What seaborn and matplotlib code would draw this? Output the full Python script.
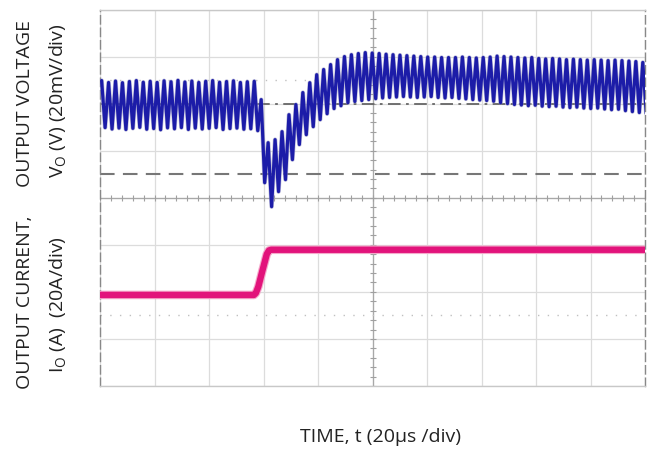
import numpy as np
import pandas as pd
import matplotlib
matplotlib.use("Agg")
import matplotlib.pyplot as plt
import seaborn as sns

# ---------------- data ----------------
# time axis: 20 us/div, screen centre = 0 us; vertical: 20 mV/div and 20 A/div (screen centre = 0)
RIPPLE_FIRST_PEAK_US = -99.4     # time of the first ripple crest
RIPPLE_PERIOD_US = 2.546         # ripple period

# output voltage ripple crests (mV, relative to screen centre), one per ripple cycle
v_peaks = [49.8, 49.0, 49.6, 48.9, 49.4, 49.8, 49.1, 49.5, 49.0, 49.7, 49.3, 49.9,
           49.2, 49.6, 49.0, 49.5, 49.8, 49.1, 49.4, 49.7, 49.0, 49.3, 49.5,
           41.7, 23.4, 24.7, 28.1, 35.3, 39.6, 44.7, 48.9, 52.3, 54.5, 56.6, 58.7,
           60.0, 60.8, 61.3, 61.7,
           61.5, 61.3, 61.0, 60.8, 60.6, 60.4, 60.2, 60.0, 59.8, 59.8, 59.6, 59.6,
           59.6, 59.8, 59.6, 59.4, 59.6, 59.8,
           60.2, 60.0, 59.8, 59.6, 59.4, 59.6, 59.2, 59.0, 59.2, 59.0, 58.7, 58.9,
           58.7, 58.5, 58.7, 58.5, 58.3, 58.5, 58.3, 58.1, 57.9, 57.5]
# output voltage ripple troughs (mV), one per ripple cycle
v_troughs = [29.8, 29.2, 29.6, 29.0, 29.5, 29.9, 29.1, 29.4, 28.9, 29.7, 29.3, 29.8,
             29.0, 29.6, 29.2, 29.5, 29.8, 29.0, 29.4, 29.6, 29.1, 29.3, 28.5,
             6.4, -3.8, 2.6, 7.7, 16.2, 22.6, 26.8, 30.2, 33.2, 35.7, 37.9, 39.1,
             40.4, 40.9, 41.3, 41.7,
             42.1, 42.4, 42.6, 42.8, 43.0, 42.8, 42.6, 42.8, 43.0, 42.6, 42.4, 42.6,
             42.2, 42.0, 41.7, 41.5, 41.3, 41.0,
             40.4, 40.0, 39.6, 39.4, 39.1, 39.3, 38.9, 38.7, 38.9, 38.5, 38.3, 38.5,
             38.1, 37.9, 38.1, 37.7, 37.4, 37.6, 37.0, 36.6, 36.2, 35.8]

# output current step (A, relative to screen centre)
i_time = [-100.0, -43.5, -42.8, -41.9, -40.4, -38.8, -38.0, -37.2, 100.0]
i_value = [-41.3, -41.3, -40.5, -37.8, -31.0, -24.0, -22.4, -22.1, -22.1]

# scope reference levels (mV)
ref_dashdot = 40.0
ref_dashed = 10.0
marker_dotted = [50.0, -50.0]

# ---------------- build tables ----------------
n = len(v_peaks)
k = np.arange(n)
t_pk = RIPPLE_FIRST_PEAK_US + RIPPLE_PERIOD_US * k
t_tr = t_pk + RIPPLE_PERIOD_US / 2
v_df = pd.DataFrame({
    "t": np.column_stack([t_pk, t_tr]).ravel(),
    "v": np.column_stack([v_peaks, v_troughs]).ravel(),
})
i_df = pd.DataFrame({"t": i_time, "i": i_value})

# ---------------- figure ----------------
sns.set_style("white")
plt.rcParams["font.family"] = ["Open Sans", "DejaVu Sans"]
plt.rcParams["mathtext.fontset"] = "custom"
plt.rcParams["mathtext.rm"] = "Open Sans"
plt.rcParams["mathtext.default"] = "rm"

fig = plt.figure(figsize=(6.48, 4.5), dpi=100)
ax = fig.add_axes([100 / 648, 1 - 386 / 450, 545 / 648, 376.5 / 450])

ax.set_xlim(-100, 100)
ax.set_ylim(-80, 80)
ax.set_xticks(np.arange(-100, 101, 20))
ax.set_yticks(np.arange(-80, 81, 20))
ax.tick_params(length=0, labelbottom=False, labelleft=False)
ax.grid(True, color="#dcdcdc", lw=0.9, zorder=0)
ax.set_axisbelow(True)

for side in ["top", "bottom"]:
    ax.spines[side].set_color("#c8c8c8")
    ax.spines[side].set_linewidth(1.0)
for side in ["left", "right"]:
    ax.spines[side].set_color("#888888")
    ax.spines[side].set_linewidth(1.0)
    ax.spines[side].set_linestyle((0, (6, 3)))

# centre cross-hair with minor ticks
ax.axhline(0, color="#a8a8a8", lw=0.9, zorder=1)
ax.axvline(0, color="#a8a8a8", lw=0.9, zorder=1)
xt = np.arange(-100, 101, 4)
ax.plot(xt, np.zeros_like(xt), ls="none", marker="|", ms=4, mew=0.8, color="#a0a0a0", zorder=1)
yt = np.arange(-80, 81, 4)
ax.plot(np.zeros_like(yt), yt, ls="none", marker="_", ms=4, mew=0.8, color="#a0a0a0", zorder=1)

# reference levels
ax.axhline(ref_dashdot, color="#666666", lw=1.3, ls=(0, (7, 3, 1.5, 3)), zorder=1.5)
ax.axhline(ref_dashed, color="#777777", lw=1.5, ls=(0, (7, 4)), zorder=1.5)
for m in marker_dotted:
    ax.axhline(m, color="#c0c0c0", lw=1.0, ls=(0, (1, 6)), zorder=1)

# traces
sns.lineplot(data=i_df, x="t", y="i", ax=ax, color="#f5a9cb", lw=6.2,
             estimator=None, sort=False, zorder=3)
sns.lineplot(data=i_df, x="t", y="i", ax=ax, color="#e2137b", lw=4.6,
             estimator=None, sort=False, zorder=4)
sns.lineplot(data=v_df, x="t", y="v", ax=ax, color="#8c8cc0", lw=3.2,
             estimator=None, sort=False, zorder=4, alpha=0.55)
sns.lineplot(data=v_df, x="t", y="v", ax=ax, color="#1c1ca8", lw=2.3,
             estimator=None, sort=False, zorder=5)

ax.set_xlabel("")
ax.set_ylabel("")

# labels
fs = 14
fig.text(25 / 648, 1 - 104 / 450, "OUTPUT VOLTAGE", rotation=90, ha="center", va="center",
         fontsize=fs, color="#222222")
fig.text(58 / 648, 1 - 101 / 450, r"V$_\mathrm{O}$ (V) (20mV/div)", rotation=90,
         ha="center", va="center", fontsize=fs, color="#222222")
fig.text(25 / 648, 1 - 302 / 450, "OUTPUT CURRENT,", rotation=90, ha="center", va="center",
         fontsize=fs, color="#222222")
fig.text(58 / 648, 1 - 305 / 450, r"I$_\mathrm{O}$ (A)  (20A/div)", rotation=90,
         ha="center", va="center", fontsize=fs, color="#222222")
fig.text(381 / 648, 1 - 437 / 450, "TIME, t (20µs /div)", ha="center", va="center",
         fontsize=fs, color="#222222")

fig.savefig("out.png", dpi=100)
